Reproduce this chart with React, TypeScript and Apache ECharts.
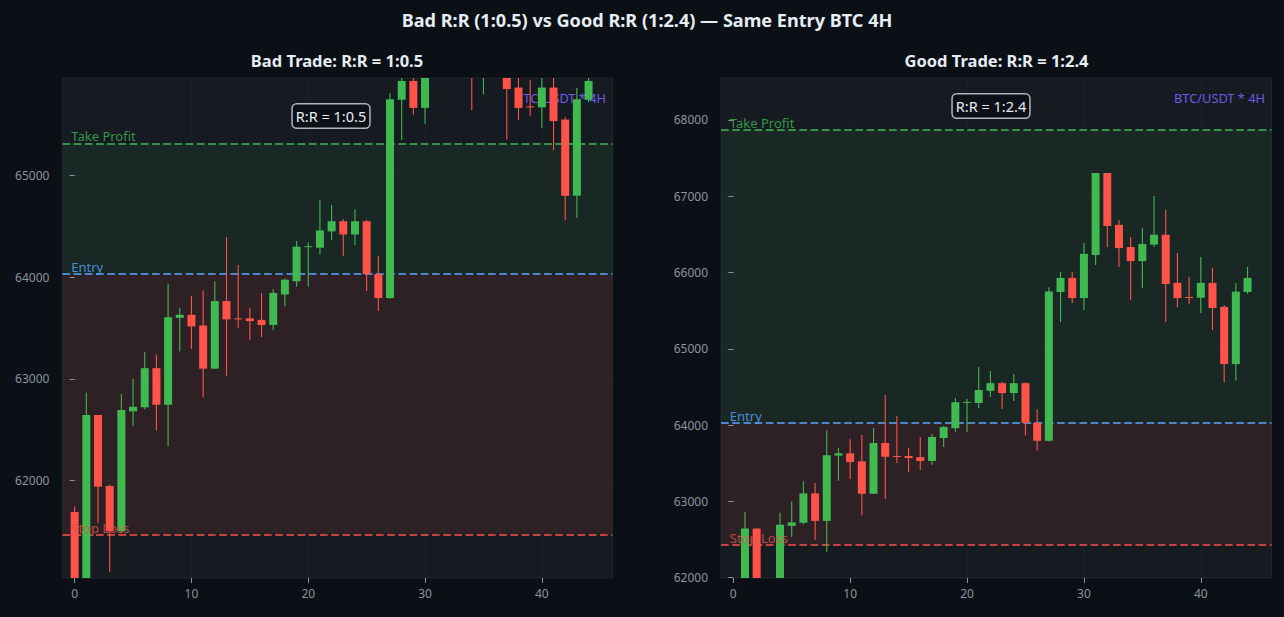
import React, { useEffect, useRef } from 'react';
import * as echarts from 'echarts';

const opens = [61690, 60900, 62644, 61946, 61500, 62680, 62720, 63105, 62745, 63600, 63630, 63525, 63100, 63765, 63595, 63595, 63580, 63530, 63830, 63960, 64295, 64290, 64450, 64550, 64420, 64550, 64030, 63795, 65745, 65930, 65665, 66230, 67305, 66625, 66335, 66150, 66365, 66495, 65865, 65680, 65670, 65865, 65550, 64800, 65745];
const closes = [60900, 62644, 61940, 61500, 62693, 62725, 63105, 62745, 63605, 63630, 63515, 63100, 63765, 63585, 63585, 63568, 63530, 63845, 63975, 64300, 64305, 64460, 64550, 64420, 64550, 64030, 63795, 65750, 65930, 65665, 66245, 67305, 66610, 66320, 66150, 66375, 66495, 65850, 65665, 65670, 65865, 65535, 64800, 65750, 65930];
const lows = [60850, 60880, 61585, 61103, 61480, 62535, 62700, 62495, 62340, 63270, 63295, 62820, 63100, 63030, 63503, 63385, 63411, 63477, 63713, 63909, 63909, 64224, 64368, 64211, 64316, 63865, 63668, 63785, 65350, 65601, 65510, 66100, 66335, 66073, 65641, 65798, 66335, 65352, 65545, 65588, 65470, 65247, 64560, 64583, 65720];
const highs = [61742, 62863, 62644, 61960, 62850, 63000, 63265, 63240, 63935, 63700, 63815, 63870, 63960, 64395, 64119, 63700, 63843, 63883, 63988, 64355, 64342, 64761, 64709, 64569, 64669, 64562, 64208, 65808, 66005, 66008, 66388, 67305, 67305, 66690, 66466, 66584, 67004, 66820, 66257, 65942, 66204, 66060, 65575, 65864, 66073];

const xTicks = [0, 10, 20, 30, 40];
const badYTicks = [62000, 63000, 64000, 65000];
const goodYTicks = [62000, 63000, 64000, 65000, 66000, 67000, 68000];

const badLevels = { entry: 64032, takeProfit: 65315, stopLoss: 61468 };
const goodLevels = { entry: 64032, takeProfit: 67869, stopLoss: 62433 };

const GREEN = '#3fb950';
const RED = '#ff5249';
const LINE_RED = '#f85149';
const BLUE = '#58a6ff';
const MUTED = '#8b949e';
const FONT = '"Noto Sans", sans-serif';

const candles = opens.map((o, i) => [i, o, closes[i], lows[i], highs[i]]);

// candlestick series does not clip partly visible boxes, so draw them here
const renderCandle = (_params: any, api: any) => {
  const i = api.value(0);
  const o = api.value(1);
  const c = api.value(2);
  const x = api.coord([i, o])[0];
  const yOpen = api.coord([i, o])[1];
  const yClose = api.coord([i, c])[1];
  const yLow = api.coord([i, api.value(3)])[1];
  const yHigh = api.coord([i, api.value(4)])[1];
  const color = c >= o ? GREEN : RED;
  return {
    type: 'group',
    children: [
      { type: 'line', shape: { x1: x, y1: yHigh, x2: x, y2: yLow }, style: { stroke: color, lineWidth: 1.1 } },
      {
        type: 'rect',
        shape: { x: x - 4, y: Math.min(yOpen, yClose), width: 8, height: Math.max(Math.abs(yOpen - yClose), 1) },
        style: { fill: color },
      },
    ],
  };
};

const makeSeries = (idx: number, lv: typeof badLevels) => [
  {
    // hidden host for the zones and level lines, below the candles
    type: 'line',
    xAxisIndex: idx,
    yAxisIndex: idx,
    z: 1,
    silent: true,
    showSymbol: false,
    lineStyle: { width: 0 },
    data: [],
    markArea: {
      z: 0,
      silent: true,
      data: [
        [
          { yAxis: lv.entry, itemStyle: { color: 'rgba(63,185,80,0.08)' } },
          { yAxis: lv.takeProfit },
        ],
        [
          { yAxis: lv.stopLoss, itemStyle: { color: 'rgba(248,81,73,0.105)' } },
          { yAxis: lv.entry },
        ],
      ],
    },
    markLine: {
      z: 1,
      silent: true,
      symbol: 'none',
      label: { show: false },
      data: [
        { yAxis: lv.takeProfit, lineStyle: { color: GREEN } },
        { yAxis: lv.entry, lineStyle: { color: BLUE } },
        { yAxis: lv.stopLoss, lineStyle: { color: LINE_RED } },
      ],
      lineStyle: { type: [7.7, 3.5], width: 1.7, opacity: 1 },
    },
  },
  {
    type: 'custom',
    xAxisIndex: idx,
    yAxisIndex: idx,
    z: 2,
    silent: true,
    clip: true,
    renderItem: renderCandle,
    encode: { x: 0, y: [1, 2, 3, 4] },
    data: candles,
  },
  {
    // level names sit on top of the candles
    type: 'scatter',
    xAxisIndex: idx,
    yAxisIndex: idx,
    z: 3,
    silent: true,
    symbolSize: 1,
    itemStyle: { color: 'transparent' },
    label: {
      show: true,
      position: [0, 0],
      align: 'left',
      verticalAlign: 'bottom',
      fontFamily: FONT,
      fontSize: 13,
      textBorderWidth: 0,
      textBorderColor: 'transparent',
      formatter: (p: any) => p.name,
    },
    data: [
      { name: 'Take Profit', value: [-0.25, lv.takeProfit], label: { color: '#3fb950' } },
      { name: 'Entry', value: [-0.25, lv.entry], label: { color: '#58a6ff' } },
      { name: 'Stop Loss', value: [-0.25, lv.stopLoss], label: { color: '#e0524b' } },
    ],
  },
];

const makeXAxis = (gridIndex: number) => ({
  type: 'value',
  gridIndex,
  min: -1.05,
  max: 46.05,
  axisLine: { show: false },
  axisTick: { show: true, length: 5, customValues: xTicks, lineStyle: { color: MUTED } },
  axisLabel: { customValues: xTicks, color: MUTED, fontSize: 12, fontFamily: FONT, margin: 9, formatter: (v: number) => String(v) },
  splitLine: { show: true, lineStyle: { color: 'rgba(255,255,255,0.025)', width: 1 } },
});

const makeYAxis = (gridIndex: number, min: number, max: number, ticks: number[]) => ({
  type: 'value',
  gridIndex,
  min,
  max,
  axisLine: { show: false },
  axisTick: { show: true, length: 5, customValues: ticks, lineStyle: { color: MUTED } },
  axisLabel: { customValues: ticks, color: MUTED, fontSize: 12, fontFamily: FONT, margin: 13, formatter: (v: number) => String(v) },
  splitLine: { show: true, lineStyle: { color: 'rgba(255,255,255,0.025)', width: 1 } },
});

const rrBox = (text: string, x: number, y: number) => ({
  type: 'text',
  x,
  y,
  z: 100,
  silent: true,
  style: {
    text,
    align: 'center',
    verticalAlign: 'middle',
    fill: '#e6edf3',
    fontSize: 14.5,
    fontFamily: FONT,
    backgroundColor: '#0d1117',
    borderColor: '#b0b6be',
    borderWidth: 1.5,
    borderRadius: 4,
    padding: [4, 3, 4, 3],
  },
});

const pairLabel = (x: number) => ({
  type: 'text',
  x,
  y: 98,
  z: 1,
  silent: true,
  style: {
    text: 'BTC/USDT * 4H',
    align: 'right',
    verticalAlign: 'middle',
    fill: '#6c5ce7',
    fontSize: 12.8,
    fontFamily: FONT,
  },
});

const titleStyle = (size: number) => ({
  color: '#e6edf3',
  fontSize: size,
  fontWeight: 'bold' as const,
  fontFamily: FONT,
});

const App: React.FC = () => {
  const chartRef = useRef<HTMLDivElement | null>(null);

  useEffect(() => {
    if (chartRef.current) {
      const chart = echarts.init(chartRef.current, null, { renderer: 'svg' });

      const option: any = {
        animation: false,
        backgroundColor: '#0b0f16',
        title: [
          { text: 'Bad R:R (1:0.5) vs Good R:R (1:2.4) — Same Entry BTC 4H', left: 647, top: 11, padding: 0, textAlign: 'center', textStyle: titleStyle(18.1) },
          { text: 'Bad Trade: R:R = 1:0.5', left: 337, top: 52, padding: 0, textAlign: 'center', textStyle: titleStyle(16.5) },
          { text: 'Good Trade: R:R = 1:2.4', left: 996.5, top: 52, padding: 0, textAlign: 'center', textStyle: titleStyle(16.5) },
        ],
        grid: [
          { left: 62.4, right: 671.5, top: 78, bottom: 39, show: true, backgroundColor: '#161b22', borderColor: '#21262d', borderWidth: 1 },
          { left: 721, right: 12.5, top: 78, bottom: 39, show: true, backgroundColor: '#161b22', borderColor: '#21262d', borderWidth: 1 },
        ],
        xAxis: [makeXAxis(0), makeXAxis(1)],
        yAxis: [makeYAxis(0, 61041, 65959, badYTicks), makeYAxis(1, 61996, 68550, goodYTicks)],
        series: [...makeSeries(0, badLevels), ...makeSeries(1, goodLevels)],
        graphic: [pairLabel(606), pairLabel(1265), rrBox('R:R = 1:0.5', 331, 116), rrBox('R:R = 1:2.4', 991, 106)],
      };

      chart.setOption(option);

      return () => {
        chart.dispose();
      };
    }
  }, []);

  return <div ref={chartRef} style={{ position: 'fixed', left: 0, top: 0, width: 1284, height: 617 }} />;
};

export default App;
